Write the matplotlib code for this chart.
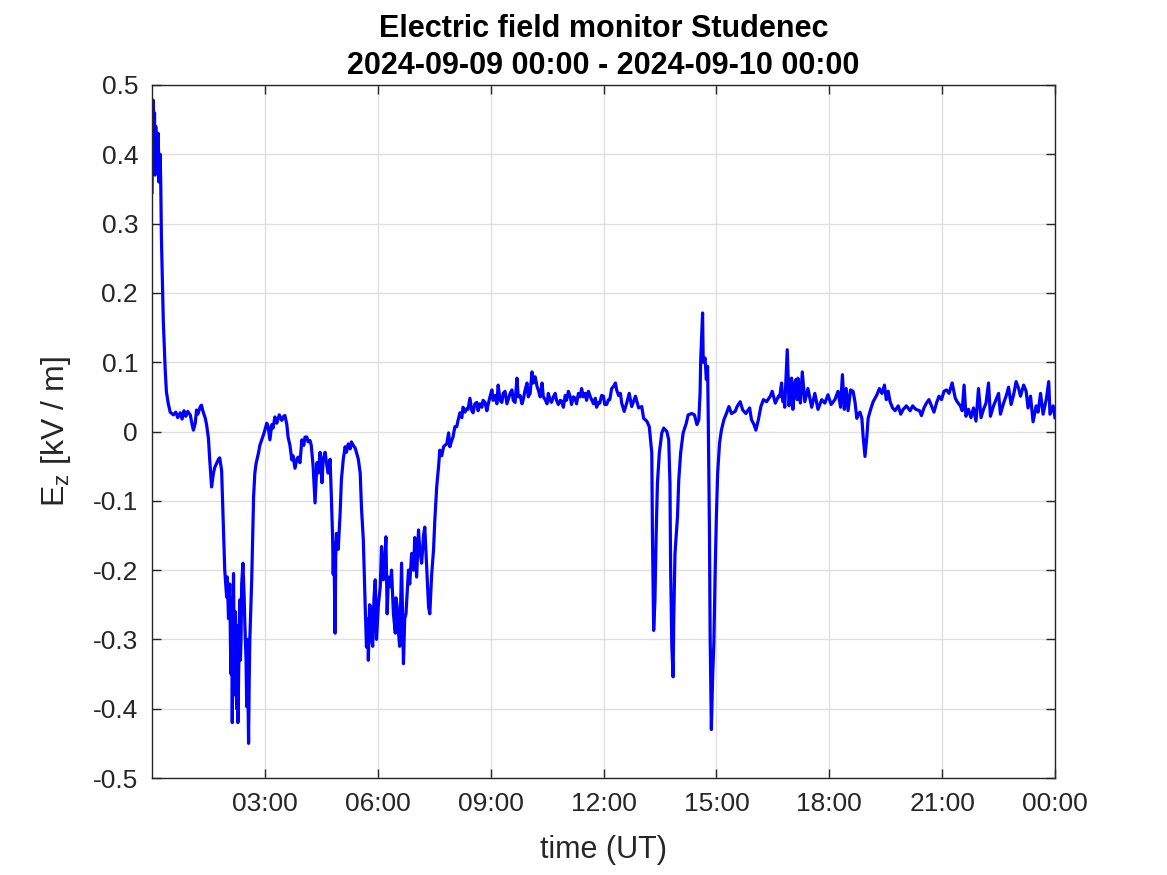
import datetime as dt
import numpy as np
import matplotlib
matplotlib.use('Agg')
import matplotlib.pyplot as plt
import matplotlib.dates as mdates

plt.rcParams['font.family'] = ['Liberation Sans', 'DejaVu Sans']
plt.rcParams['axes.unicode_minus'] = False

# minutes after 2024-09-09 00:00 UT and field Ez [kV/m]
night_min = [0, 1, 2, 3, 4, 5, 6, 8, 10, 11, 13, 14, 15, 18, 21, 23, 26, 29, 34,
             38, 41, 45, 48, 51, 54, 57, 61, 64, 66, 69, 71, 73, 77, 79, 81, 85,
             87, 90, 92, 95, 98, 100, 103, 106, 108, 111, 114, 116, 119, 120, 122,
             123, 124, 125, 126, 127, 128, 129, 130, 131, 132, 133, 134, 135, 136, 137,
             138, 139, 140, 141, 142, 143, 145,
             147, 148, 150, 151, 152, 154, 155, 156, 159, 162, 164, 166, 170, 172, 175, 178,
             180, 183, 185, 188, 191, 193, 196, 199, 203, 207, 210, 212, 215, 217,
             220, 223, 225, 228, 231, 233, 236, 239, 242, 244, 247, 249, 252, 254,
             257, 260, 263, 265, 268, 271, 273, 276, 279, 281, 284, 286, 288, 289,
             290, 292, 293, 294, 297, 300, 302, 305, 308, 310, 313, 316, 318, 321,
             324, 326, 329]
night_ez = [0.345, 0.43, 0.478, 0.40, 0.46, 0.37, 0.44, 0.38, 0.43, 0.36, 0.40, 0.355,
            0.28, 0.16, 0.09, 0.057, 0.04, 0.028, 0.024,
            0.028, 0.02, 0.027, 0.018, 0.03, 0.022, 0.029, 0.024, 0.01, 0.002, 0.012,
            0.031, 0.025, 0.036, 0.038, 0.03, 0.019,
            0.01, -0.01, -0.04, -0.08, -0.06, -0.052, -0.046, -0.04, -0.038, -0.056,
            -0.142, -0.2, -0.239, -0.21, -0.27,
            -0.25, -0.22, -0.30, -0.35, -0.24, -0.42, -0.30, -0.205, -0.32, -0.38,
            -0.26, -0.33, -0.40, -0.28, -0.42,
            -0.36, -0.30, -0.243, -0.33, -0.30, -0.22, -0.19,
            -0.24, -0.276, -0.33, -0.397, -0.30, -0.45, -0.36, -0.30, -0.214, -0.094,
            -0.06, -0.046, -0.03, -0.02, -0.012, -0.004,
            0.002, 0.012, 0.008, -0.012, 0.01, 0.005, 0.021, 0.012, 0.024, 0.016,
            0.022, 0.023, 0.01, -0.008,
            -0.02, -0.041, -0.035, -0.053, -0.04, -0.037, -0.045, -0.012, -0.02,
            -0.008, -0.008, -0.015, -0.013, -0.02,
            -0.051, -0.103, -0.045, -0.06, -0.03, -0.074, -0.04, -0.03, -0.05, -0.06,
            -0.04, -0.094, -0.153, -0.206,
            -0.16, -0.291, -0.18, -0.147, -0.17, -0.118, -0.07, -0.04, -0.022, -0.03,
            -0.018, -0.025, -0.015, -0.02,
            -0.024, -0.03, -0.04]

morning_min = [332, 334, 337, 340, 342, 344, 345, 347, 349, 350, 352, 354, 356, 358,
               361, 364, 366, 369, 371, 373, 375, 377, 380, 382, 385, 388, 389, 391,
               393, 395, 398, 401, 403, 405, 409, 411, 414, 417, 419, 422, 425, 427,
               430, 433, 435, 438, 441, 443, 446, 449, 451, 454, 457, 459, 462, 465,
               467, 470, 473, 475, 478, 480, 483, 486, 488, 491, 494, 496, 499, 502,
               504, 507, 510, 512, 515, 518, 520, 523, 526, 528, 531, 534, 536, 539]
morning_ez = [-0.06, -0.109, -0.157, -0.253, -0.311, -0.27, -0.33, -0.25, -0.253, -0.30,
              -0.31, -0.24, -0.214, -0.30,
              -0.25, -0.224, -0.166, -0.214, -0.19, -0.152, -0.263, -0.21, -0.224,
              -0.20, -0.263, -0.291, -0.24, -0.253,
              -0.29, -0.31, -0.19, -0.335, -0.27, -0.263, -0.20, -0.22, -0.176, -0.20,
              -0.153, -0.21, -0.142, -0.17,
              -0.19, -0.15, -0.138, -0.195, -0.253, -0.263, -0.206, -0.17, -0.128,
              -0.08, -0.05, -0.027, -0.035, -0.022,
              -0.02, -0.018, -0.002, -0.022, -0.013, -0.008, 0.007, 0.007, 0.016,
              0.027, 0.02, 0.035, 0.028, 0.033,
              0.032, 0.048, 0.03, 0.027, 0.04, 0.042, 0.03, 0.04, 0.035, 0.045, 0.042,
              0.03, 0.039, 0.05]

midday_min = [542, 544, 547, 550, 552, 555, 558, 560, 563, 566, 568, 571, 574, 576,
              579, 582, 584, 587, 590, 592, 595, 598, 600, 603, 606, 608, 611, 614,
              616, 619, 622, 624, 627, 630, 632, 635, 637, 640, 643, 645, 648, 651,
              653, 656, 659, 661, 664, 667, 669, 672, 675, 677, 680, 683, 685, 688,
              691, 693, 696, 699, 701, 704, 707, 709, 712, 714, 717, 720, 722, 725,
              728, 730, 733, 736, 739, 741, 744, 747, 749, 753, 757, 761, 765, 771,
              776, 781, 784, 789, 793]
midday_ez = [0.06, 0.045, 0.052, 0.04, 0.067, 0.045, 0.042, 0.055, 0.058, 0.04, 0.046,
             0.055, 0.06, 0.045,
             0.042, 0.077, 0.05, 0.052, 0.04, 0.046, 0.06, 0.07, 0.05, 0.055, 0.086,
             0.07, 0.079, 0.065,
             0.06, 0.05, 0.07, 0.05, 0.046, 0.04, 0.055, 0.045, 0.042, 0.05, 0.055,
             0.045, 0.039, 0.045,
             0.044, 0.035, 0.052, 0.045, 0.058, 0.05, 0.039, 0.05, 0.048, 0.04, 0.055,
             0.05, 0.062, 0.05,
             0.055, 0.045, 0.058, 0.05, 0.046, 0.04, 0.048, 0.035, 0.042, 0.041,
             0.052, 0.051, 0.039, 0.039,
             0.046, 0.046, 0.062, 0.065, 0.07, 0.06, 0.052, 0.055, 0.041, 0.029,
             0.041, 0.055, 0.036, 0.051,
             0.034, 0.036, 0.019, 0.015, 0.007]

afternoon_min = [795, 797, 798, 800, 802, 804, 806, 809, 813, 816, 821, 824, 826, 827,
                 829, 831, 832, 834, 838, 840, 843, 847, 852, 855, 861, 865, 869, 872,
                 874, 875, 878, 879, 882, 884, 886, 887, 889, 890, 892, 894, 896, 898,
                 900, 902, 905, 908, 912, 916, 920, 924, 930, 933, 938, 942, 947, 953,
                 956, 960, 963, 967, 971, 975, 980, 986, 989, 994, 999]
afternoon_ez = [-0.012, -0.031, -0.147, -0.287, -0.244, -0.147, -0.075, -0.031, -0.002,
                0.005, 0.0, -0.012, -0.075, -0.195,
                -0.311, -0.354, -0.272, -0.176, -0.123, -0.07, -0.031, -0.002, 0.012,
                0.024, 0.026, 0.024, 0.01, 0.017,
                0.055, 0.103, 0.171, 0.10, 0.106, 0.075, 0.094, 0.022, -0.147, -0.291,
                -0.43, -0.355, -0.305, -0.205,
                -0.123, -0.061, -0.017, 0.002, 0.017, 0.026, 0.036, 0.026, 0.029, 0.036,
                0.043, 0.031, 0.026, 0.034,
                0.017, 0.01, 0.002, 0.017, 0.036, 0.046, 0.043, 0.051, 0.058, 0.041,
                0.051]

evening_min = [1001, 1004, 1006, 1008, 1009, 1013, 1016, 1018, 1020, 1022, 1025, 1027,
               1029, 1030, 1034, 1037, 1041, 1046, 1052, 1057, 1062, 1068, 1073, 1078,
               1083, 1089, 1094, 1098, 1101, 1104, 1107, 1110, 1114, 1118, 1121, 1124,
               1126, 1129, 1132, 1134, 1137, 1140, 1142, 1146, 1150, 1156, 1160, 1164,
               1168, 1171, 1174, 1177, 1181, 1185, 1190, 1194, 1198, 1203, 1209, 1213,
               1218, 1224, 1227, 1231, 1235, 1239, 1243, 1247, 1251, 1255, 1259, 1263,
               1267, 1271, 1276, 1281, 1284, 1289, 1292, 1295, 1298, 1302, 1306, 1310,
               1314, 1318, 1322, 1326, 1330, 1334, 1337, 1342, 1346, 1350, 1353, 1358,
               1362, 1366, 1370, 1374, 1378, 1382, 1385, 1390, 1394, 1397, 1401, 1405,
               1410, 1413, 1417, 1421, 1426, 1430, 1432, 1437, 1440]
evening_ez = [0.05, 0.07, 0.043, 0.046, 0.035, 0.118, 0.037, 0.075, 0.077, 0.032, 0.07,
              0.075,
              0.046, 0.077, 0.041, 0.086, 0.043, 0.062, 0.035, 0.055, 0.032, 0.046,
              0.041, 0.053,
              0.039, 0.046, 0.058, 0.035, 0.082, 0.032, 0.062, 0.03, 0.06, 0.058, 0.043,
              0.019,
              0.024, 0.028, 0.019, -0.007, -0.036, -0.007, 0.019, 0.032, 0.043, 0.053,
              0.062, 0.055,
              0.067, 0.046, 0.058, 0.043, 0.034, 0.03, 0.037, 0.025, 0.032, 0.037, 0.03,
              0.037,
              0.032, 0.03, 0.023, 0.034, 0.041, 0.046, 0.037, 0.028, 0.041, 0.051,
              0.046, 0.058,
              0.06, 0.055, 0.07, 0.048, 0.043, 0.037, 0.03, 0.067, 0.022, 0.032, 0.02,
              0.034,
              0.015, 0.062, 0.02, 0.032, 0.041, 0.07, 0.022, 0.037, 0.046, 0.055, 0.025,
              0.041,
              0.051, 0.064, 0.039, 0.053, 0.072, 0.062, 0.051, 0.067, 0.058, 0.034,
              0.051, 0.014,
              0.037, 0.028, 0.055, 0.025, 0.046, 0.072, 0.025, 0.037, 0.02]

yticks = [-0.5, -0.4, -0.3, -0.2, -0.1, 0, 0.1, 0.2, 0.3, 0.4, 0.5]
ytick_labels = ['-0.5', '-0.4', '-0.3', '-0.2', '-0.1', '0', '0.1', '0.2', '0.3', '0.4', '0.5']
tick_hours = [3, 6, 9, 12, 15, 18, 21, 24]

start = dt.datetime(2024, 9, 9)
minutes = night_min + morning_min + midday_min + afternoon_min + evening_min
ez = night_ez + morning_ez + midday_ez + afternoon_ez + evening_ez
times = [start + dt.timedelta(minutes=m) for m in minutes]

fig = plt.figure(figsize=(11.67, 8.75), dpi=100)
ax = fig.add_axes([152/1167, 97/875, 903/1167, 693/875])

ax.plot(times, ez, color=(0, 0, 1), lw=2.3)

ax.set_xlim(start, start + dt.timedelta(days=1))
ax.set_ylim(-0.5, 0.5)
ax.set_xticks([start + dt.timedelta(hours=h) for h in tick_hours])
ax.xaxis.set_major_formatter(mdates.DateFormatter('%H:%M'))
ax.set_yticks(yticks)
ax.set_yticklabels(ytick_labels)

ax.grid(True, color='#dfdfdf', lw=1.0)
ax.set_axisbelow(True)
for s in ax.spines.values():
    s.set_color('#262626')
    s.set_linewidth(1.0)
ax.tick_params(direction='in', length=6.5, width=1.0, top=True, right=True,
               labelsize=19, colors='#262626', pad=10)

ax.set_title('Electric field monitor Studenec\n2024-09-09 00:00 - 2024-09-10 00:00',
             fontsize=22, fontweight='bold', pad=8, linespacing=1.32)
ax.set_xlabel('time (UT)', fontsize=22, color='#262626', labelpad=14)
ax.set_ylabel(r'$\mathregular{E_z}$ [kV / m]', fontsize=23, color='#262626', labelpad=14)

fig.savefig('out.png', dpi=100)
